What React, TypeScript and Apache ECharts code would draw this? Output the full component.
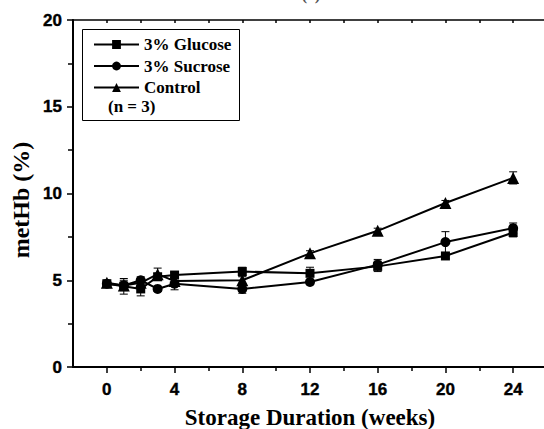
import React, { useEffect, useRef } from "react";
import * as echarts from "echarts";

const weeks = [0, 1, 2, 3, 4, 8, 12, 16, 20, 24];
const glucose = [4.8, 4.65, 4.5, 5.2, 5.3, 5.5, 5.4, 5.8, 6.4, 7.75];
const glucoseErr = [0.15, 0.45, 0.4, 0.2, 0.15, 0.25, 0.35, 0.3, 0.15, 0.25];
const sucrose = [4.8, 4.7, 5.0, 4.5, 4.8, 4.5, 4.9, 5.9, 7.2, 8.0];
const sucroseErr = [0.15, 0.3, 0.2, 0.15, 0.35, 0.25, 0.15, 0.3, 0.6, 0.3];
const control = [4.85, 4.7, 4.85, 5.35, 4.95, 5.0, 6.55, 7.85, 9.45, 10.9];
const controlErr = [0.15, 0.2, 0.2, 0.35, 0.2, 0.2, 0.15, 0.15, 0.15, 0.35];
const xMajorTicks = [0, 4, 8, 12, 16, 20, 24];
const xMinorTicks = [2, 6, 10, 14, 18, 22];
const xTopTicks = [0, 2, 4, 6, 8, 10, 12, 14, 16, 18, 20, 22, 24];
const seriesNames = ["3% Glucose", "3% Sucrose", "Control"];

const SERIF = "'Liberation Serif', 'Times New Roman', serif";
const SANS = "Liberation Sans";

function errData(vals: number[], errs: number[]) {
  return weeks.map((w, i) => [w, vals[i] - errs[i], vals[i] + errs[i]]);
}

const errRender = (params: any, api: any) => {
  const x = api.value(0);
  const lo = api.value(1);
  const hi = api.value(2);
  const t = api.coord([x, hi]);
  const b = api.coord([x, lo]);
  const w = 4;
  const st = { stroke: "#000", lineWidth: 1 };
  return {
    type: "group",
    children: [
      { type: "line", shape: { x1: t[0], y1: t[1], x2: b[0], y2: b[1] }, style: st },
      { type: "line", shape: { x1: t[0] - w, y1: t[1], x2: t[0] + w, y2: t[1] }, style: st },
      { type: "line", shape: { x1: b[0] - w, y1: b[1], x2: b[0] + w, y2: b[1] }, style: st },
    ],
  };
};

export default function App() {
  const ref = useRef<HTMLDivElement>(null);
  useEffect(() => {
    if (!ref.current) return;
    const chart = echarts.init(ref.current, null, { renderer: "svg" });
    const lineSeries = (name: string, vals: number[], symbol: string, size: number) => ({
      type: "line",
      name,
      data: weeks.map((w, i) => [w, vals[i]]),
      symbol,
      symbolSize: size,
      lineStyle: { color: "#000", width: 2 },
      itemStyle: { color: "#000" },
      z: 5,
    });
    const errSeries = (vals: number[], errs: number[]) => ({
      type: "custom",
      renderItem: errRender,
      data: errData(vals, errs),
      encode: { x: 0, y: [1, 2] },
      z: 4,
      silent: true,
    });
    const baseX = { type: "value", min: -2, max: 26, gridIndex: 0, splitLine: { show: false } };
    const axisFont = { fontFamily: SANS, fontWeight: 700, fontSize: 17, color: "#000", textBorderColor: "#000", textBorderWidth: 0.4 };
    chart.setOption({
      animation: false,
      backgroundColor: "#fff",
      grid: { left: 73, right: -3, top: 20, bottom: 62, containLabel: false, outerBoundsMode: "none" },
      xAxis: [
        {
          ...baseX,
          position: "bottom",
          name: "Storage Duration (weeks)",
          nameLocation: "middle",
          nameGap: 39,
          nameTextStyle: { fontFamily: SERIF, fontWeight: "bold", fontSize: 23, color: "#000" },
          axisLine: { show: true, onZero: false, lineStyle: { color: "#000", width: 2 } },
          axisTick: { show: true, inside: false, length: 6, customValues: xMajorTicks, lineStyle: { color: "#000", width: 1.5 } },
          axisLabel: { show: true, customValues: xMajorTicks, margin: 14, ...axisFont },
        },
        {
          ...baseX,
          position: "bottom",
          axisLine: { show: false, onZero: false },
          axisTick: { show: true, inside: false, length: 4, customValues: xMinorTicks, lineStyle: { color: "#000", width: 1.5 } },
          axisLabel: { show: false },
        },
        {
          ...baseX,
          position: "top",
          axisLine: { show: true, onZero: false, lineStyle: { color: "#000", width: 1.5 } },
          axisTick: { show: true, inside: true, length: 3, customValues: xTopTicks, lineStyle: { color: "#000", width: 1.5 } },
          axisLabel: { show: false },
        },
      ],
      yAxis: {
        type: "value",
        min: 0,
        max: 20,
        interval: 5,
        splitLine: { show: false },
        axisLine: { show: true, onZero: false, lineStyle: { color: "#000", width: 2 } },
        axisTick: { show: true, inside: false, length: 6, lineStyle: { color: "#000", width: 1.5 } },
        minorTick: { show: true, splitNumber: 2, length: 5, lineStyle: { color: "#000", width: 1.5 } },
        axisLabel: { margin: 11, ...axisFont },
      },
      legend: {
        data: seriesNames,
        orient: "vertical",
        left: 93,
        top: 36,
        padding: 0,
        itemWidth: 45,
        itemHeight: 11,
        itemGap: 4.5,
        textStyle: { fontFamily: SERIF, fontWeight: "bold", fontSize: 17, color: "#000" },
      },
      graphic: [
        {
          type: "rect",
          left: 82,
          top: 29,
          shape: { width: 157, height: 91 },
          style: { fill: "transparent", stroke: "#000", lineWidth: 1 },
          z: 10,
        },
        {
          type: "text",
          left: 108,
          top: 98,
          style: { text: "(n = 3)", font: `bold 17px ${SERIF}`, fill: "#000" },
          z: 10,
        },
        {
          type: "text",
          x: 21,
          y: 200,
          rotation: Math.PI / 2,
          style: {
            text: "metHb (%)",
            font: `bold 24px ${SERIF}`,
            fill: "#000",
            align: "center",
            verticalAlign: "middle",
          },
          z: 10,
        },
        {
          type: "text",
          x: 311,
          y: 3,
          style: {
            text: "(c)",
            font: `bold 17px ${SERIF}`,
            fill: "#555",
            align: "center",
            verticalAlign: "bottom",
          },
          z: 10,
        },
      ],
      series: [
        errSeries(glucose, glucoseErr),
        errSeries(sucrose, sucroseErr),
        errSeries(control, controlErr),
        lineSeries(seriesNames[0], glucose, "rect", 9),
        lineSeries(seriesNames[1], sucrose, "circle", 10),
        lineSeries(seriesNames[2], control, "triangle", 12),
      ],
    });
    return () => chart.dispose();
  }, []);
  return <div ref={ref} style={{ width: 544, height: 429, position: "absolute", left: 0, top: 0 }} />;
}
